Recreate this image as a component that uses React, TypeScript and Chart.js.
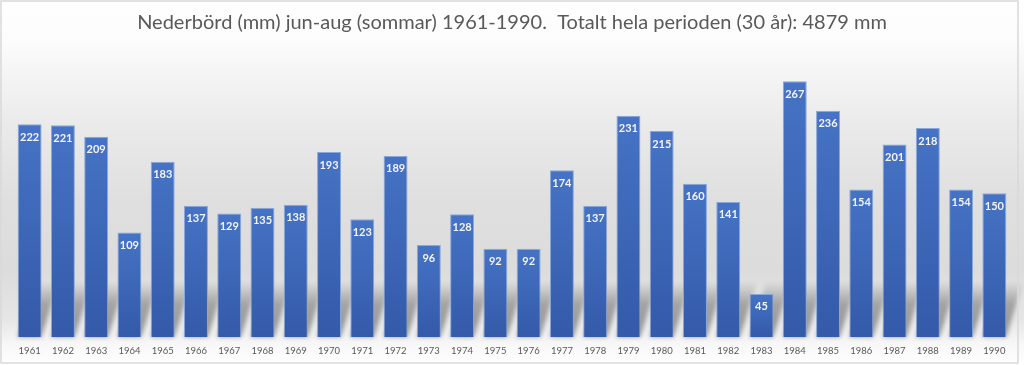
import { useEffect, useRef } from 'react';
import { Chart, registerables } from 'chart.js';

Chart.register(...registerables);

const TITLE = 'Nederbörd (mm) jun-aug (sommar) 1961-1990.  Totalt hela perioden (30 år): 4879 mm';
const years = [
  '1961', '1962', '1963', '1964', '1965', '1966', '1967', '1968', '1969', '1970',
  '1971', '1972', '1973', '1974', '1975', '1976', '1977', '1978', '1979', '1980',
  '1981', '1982', '1983', '1984', '1985', '1986', '1987', '1988', '1989', '1990',
];
const values = [
  222, 221, 209, 109, 183, 137, 129, 135, 138, 193,
  123, 189, 96, 128, 92, 92, 174, 137, 231, 215,
  160, 141, 45, 267, 236, 154, 201, 218, 154, 150,
];
const yMax = 300;

const FONT = 'Lato, "Open Sans", "DejaVu Sans", sans-serif';

const backgroundPlugin = {
  id: 'bgGradient',
  beforeDraw(chart: any) {
    const { ctx, width, height } = chart;
    ctx.save();
    const g = ctx.createLinearGradient(0, 0, 0, height);
    g.addColorStop(0, '#ffffff');
    g.addColorStop(40 / 365, '#fcfcfc');
    g.addColorStop(120 / 365, '#ebebeb');
    g.addColorStop(200 / 365, '#dfdfdf');
    g.addColorStop(270 / 365, '#dcdcdc');
    g.addColorStop(320 / 365, '#e6e6e6');
    g.addColorStop(345 / 365, '#f8f8f8');
    g.addColorStop(1, '#ffffff');
    ctx.fillStyle = g;
    ctx.fillRect(0, 0, width, height);
    ctx.restore();
  },
  afterDraw(chart: any) {
    const { ctx } = chart;
    ctx.save();
    ctx.strokeStyle = '#d9d9d9';
    ctx.lineWidth = 1.5;
    ctx.strokeRect(1, 1, 1017, 362);
    ctx.restore();
  },
};

const shadowPlugin = {
  id: 'barShadows',
  beforeDatasetsDraw(chart: any) {
    const { ctx } = chart;
    const meta = chart.getDatasetMeta(0);
    ctx.save();
    ctx.filter = 'blur(2px)';
    const h = 55;
    const k = 0.3;
    meta.data.forEach((el: any) => {
      const w = el.width;
      const l = el.x - w / 2;
      const r = el.x + w / 2;
      const b = el.base;
      const g = ctx.createLinearGradient(0, b, 0, b - h);
      g.addColorStop(0, 'rgba(0,0,0,0.36)');
      g.addColorStop(0.6, 'rgba(0,0,0,0.28)');
      g.addColorStop(1, 'rgba(0,0,0,0)');
      ctx.fillStyle = g;
      ctx.beginPath();
      ctx.moveTo(l, b);
      ctx.lineTo(r, b);
      ctx.lineTo(r + h * k, b - h);
      ctx.lineTo(l + h * k, b - h);
      ctx.closePath();
      ctx.fill();
    });
    ctx.restore();
  },
};

const labelPlugin = {
  id: 'barLabels',
  afterDatasetsDraw(chart: any) {
    const { ctx } = chart;
    const meta = chart.getDatasetMeta(0);
    ctx.save();
    ctx.fillStyle = '#f4f4f4';
    ctx.font = `bold 11px ${FONT}`;
    ctx.textAlign = 'center';
    ctx.textBaseline = 'middle';
    meta.data.forEach((el: any, i: number) => {
      ctx.fillText(String(values[i]), el.x, el.y + 13);
    });
    ctx.restore();
  },
};

export default function App() {
  const ref = useRef<HTMLCanvasElement | null>(null);

  useEffect(() => {
    if (!ref.current) return;
    const chart = new Chart(ref.current, {
      type: 'bar',
      data: {
        labels: years,
        datasets: [
          {
            data: values,
            backgroundColor: (c: any) => {
              const chart = c.chart;
              const { chartArea, scales } = chart;
              if (!chartArea || c.type !== 'data') return '#4472C4';
              const top = scales.y.getPixelForValue(values[c.dataIndex]);
              const bottom = scales.y.getPixelForValue(0);
              const g = chart.ctx.createLinearGradient(0, top, 0, bottom);
              g.addColorStop(0, '#4673C5');
              g.addColorStop(1, '#345AA9');
              return g;
            },
            borderColor: '#8aa7da',
            borderWidth: 1,
            barPercentage: 0.72,
            categoryPercentage: 1,
          },
        ],
      },
      options: {
        responsive: false,
        animation: false,
        devicePixelRatio: 1,
        layout: { padding: { left: 13, right: 13, top: 0, bottom: 0.6 } },
        scales: {
          x: {
            grid: { display: false, drawTicks: false },
            border: { display: false },
            ticks: {
              color: '#595959',
              font: { family: FONT, size: 9.5 },
              padding: 8,
              maxRotation: 0,
              autoSkip: false,
            },
          },
          y: { display: false, min: 0, max: yMax },
        },
        plugins: {
          legend: { display: false },
          tooltip: { enabled: false },
          title: {
            display: true,
            text: TITLE,
            color: '#595959',
            font: { family: FONT, size: 20, weight: 'normal' },
            padding: { top: 11, bottom: 14.5 },
          },
        },
      },
      plugins: [backgroundPlugin, shadowPlugin, labelPlugin],
    });
    return () => chart.destroy();
  }, []);

  return (
    <div style={{ position: 'fixed', left: 0, top: 0, width: 1024, height: 365, background: '#fff' }}>
      <canvas ref={ref} width={1024} height={365} style={{ display: 'block' }} />
    </div>
  );
}
